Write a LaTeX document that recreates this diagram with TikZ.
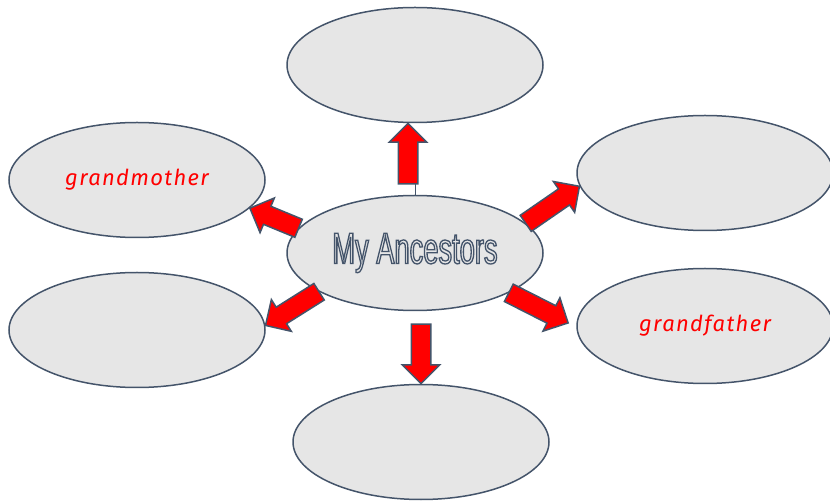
\documentclass[tikz,border=0pt]{standalone}
\usepackage{fontspec}
\usepackage{xcolor}
\usepackage{tikz}
\usetikzlibrary{calc, shapes.geometric, shapes.arrows}
\setmainfont{Liberation Sans}
\newfontfamily\titlefont[FakeStretch=0.62]{Liberation Sans}
\newfontfamily\handfont[LetterSpace=6]{Fira Sans}
\definecolor{slate}{HTML}{44546A}
\definecolor{bubblegray}{HTML}{E6E6E6}
% hollow letters: stroke the glyphs instead of filling them
\newcommand{\hollow}[1]{\special{pdf:code 1 Tr 1.3 w}#1\special{pdf:code 0 Tr}}
\tikzset{
  bubble/.style={ellipse, draw=slate, fill=bubblegray, line width=1.5pt, minimum width=256pt, minimum height=115pt, inner sep=0pt},
  kin/.style={text=red, font=\handfont\itshape\fontsize{22}{22}\selectfont},
  blockarrow/.style={single arrow, draw=slate, fill=red, line width=1.5pt, single arrow head extend=9pt, single arrow head indent=0pt, inner xsep=0pt, inner ysep=9pt, sloped, allow upside down}
}
\newcommand{\kinarrow}[2]{\path let \p1=($(#2)-(#1)$), \n1={veclen(\x1,\y1)}, \n2={0.5-5/\n1} in (#1) -- node[blockarrow, pos=\n2, minimum height=\n1]{} (#2);}

\begin{document}
\begin{tikzpicture}[x=1pt, y=-1pt]
  \useasboundingbox (0,0) rectangle (830,502);
  \node[bubble](anc) at (415,253){};
  \node[bubble](top) at (415,65){};
  \node[bubble, kin](gmother) at (137,180){grandmother};
  \node[bubble](lowleft) at (137,330){};
  \node[bubble](upright) at (705,173){};
  \node[bubble, kin](gfather) at (705,326){grandfather};
  \node[bubble](bottom) at (421,442){};

  \draw[slate, line width=1pt] (anc.north) -- ++(0,-11);
  \kinarrow{$(anc.north)+(-7,-11)$}{$(top.south)+(-7,0)$}
  \kinarrow{anc.168}{gmother.-14}
  \kinarrow{anc.202}{lowleft.2}
  \kinarrow{anc.15}{upright.186}
  \kinarrow{anc.-23}{$(gfather.west)+(-8,-3)$}
  \kinarrow{$(anc.south)+(6,13)$}{bottom.north}

  \node[text=slate] at (anc.center){\titlefont\fontsize{44}{44}\selectfont\hollow{My Ancestors}};
\end{tikzpicture}
\end{document}
